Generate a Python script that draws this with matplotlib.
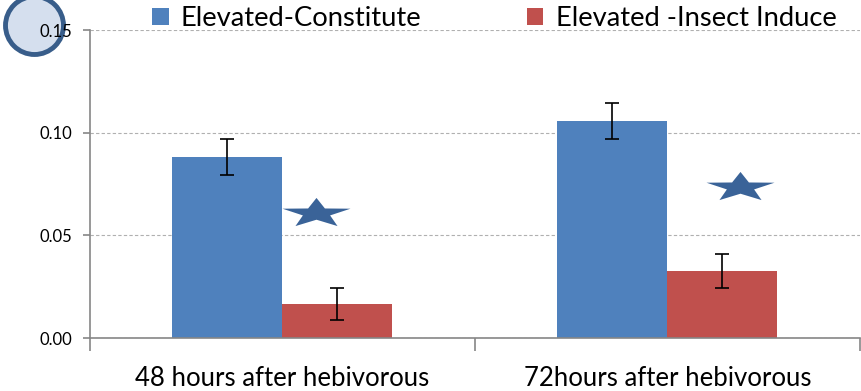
import numpy as np
import matplotlib.pyplot as plt
from matplotlib.path import Path
from matplotlib.patches import Circle

plt.rcParams['font.family'] = ['Lato', 'DejaVu Sans']

groups = ["48 hours after hebivorous", "72hours after hebivorous"]
constitute = [0.0881, 0.1056]
constitute_err = [0.0088, 0.0088]
induce = [0.0166, 0.0326]
induce_err = [0.0080, 0.0083]
# significance stars (x in category units, y in data units)
star_x = [0.087, 1.188]
star_y = [0.0609, 0.0735]

blue = "#4F81BD"
red = "#C0504D"

fig = plt.figure(figsize=(8.61, 3.91), dpi=100)
ax = fig.add_axes([0.1045, 0.1355, 0.894, 0.7875])

x = np.arange(len(groups))
w = 0.286
ax.bar(x - w/2, constitute, w, color=blue, label="Elevated-Constitute", zorder=2)
ax.bar(x + w/2, induce, w, color=red, label="Elevated -Insect Induce", zorder=2)
ax.errorbar(x - w/2, constitute, yerr=constitute_err, fmt="none", ecolor="black",
            elinewidth=1.2, capsize=5, capthick=1.2, zorder=3)
ax.errorbar(x + w/2, induce, yerr=induce_err, fmt="none", ecolor="black",
            elinewidth=1.2, capsize=5, capthick=1.2, zorder=3)

# flattened five-point star
ang = np.pi/2 + np.arange(10) * np.pi/5
rad = np.where(np.arange(10) % 2 == 0, 1.0, 0.4)
verts = np.column_stack([rad*np.cos(ang)*2.3, rad*np.sin(ang)])
verts = np.vstack([verts, verts[0]])
star = Path(verts, closed=True)
ax.scatter(star_x, star_y, marker=star, s=2400, color="#3A6398", zorder=4, linewidths=0)

ax.set_xlim(-0.5, 1.5)
ax.set_ylim(0, 0.15)
ax.set_yticks([0, 0.05, 0.10, 0.15])
ax.set_yticklabels(["0.00", "0.05", "0.10", "0.15"])
ax.yaxis.grid(True, linestyle=(0, (3, 2)), color="#b0b0b0", linewidth=0.8, zorder=0)
ax.set_xticks(x)
ax.set_xticklabels(groups, fontsize=18.5)
ax.set_xticks([-0.5, 0.5, 1.5], minor=True)
ax.tick_params(axis="x", which="major", length=0, pad=20)
ax.tick_params(axis="x", which="minor", length=9, color="#868686", width=1.2)
ax.tick_params(axis="y", length=5, color="#868686", width=1.2, labelsize=12, pad=8)

for s in ["top", "right"]:
    ax.spines[s].set_visible(False)
for s in ["left", "bottom"]:
    ax.spines[s].set_color("#868686")
    ax.spines[s].set_linewidth(1.2)

# highlight ring behind the top tick label
ring = Circle((0.345, 3.655), 0.29, transform=fig.dpi_scale_trans, facecolor="#D5DFEE",
              edgecolor="#385D8A", linewidth=3.5, zorder=-1)
fig.patches.append(ring)

leg = fig.legend(loc="center", bbox_to_anchor=(0.574, 0.952), ncol=2, frameon=False,
                 fontsize=19.7, handlelength=0.6, handleheight=0.6, handletextpad=0.45,
                 columnspacing=3.85, borderaxespad=0)

fig.savefig("out.png", dpi=100)
